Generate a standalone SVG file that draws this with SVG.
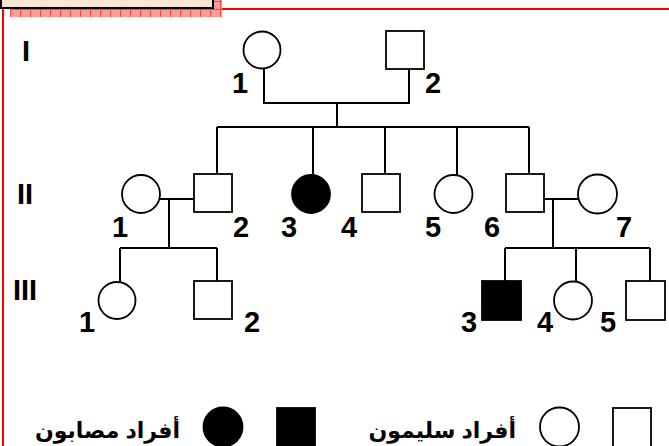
<svg xmlns="http://www.w3.org/2000/svg" width="669" height="446" viewBox="0 0 669 446">
<defs>
<pattern id="hatch" width="10" height="8" patternUnits="userSpaceOnUse" x="0" y="9">
<rect width="10" height="8" fill="#FF9C9C"/>
<path d="M0 0.5H10M0.5 0V8" stroke="#F44" stroke-width="1"/>
</pattern>
<style>
.ln{stroke:#000;stroke-width:2;fill:none}
.sh{stroke:#000;stroke-width:1.8;fill:#fff}
.af{stroke:#000;stroke-width:1.8;fill:#000}
.lb{font-family:"Liberation Sans",Arial,sans-serif;font-weight:bold;font-size:29px;fill:#000}
.ar{font-family:"Liberation Sans","DejaVu Sans","Noto Sans",sans-serif;font-weight:bold;font-size:22px;fill:#000}
.red{stroke:#F00;stroke-width:2;fill:none}
</style>
</defs>
<g id="frame">
<rect x="10" y="9" width="212" height="8" fill="url(#hatch)"/>
<rect x="213" y="0" width="9" height="17" fill="url(#hatch)"/>
<rect x="1" y="-2" width="212" height="10" fill="#FBE5D3" stroke="#000" stroke-width="2"/>
<path class="red" d="M222 9H669M3 9V446"/>
</g>
<g id="connectors">
<path class="ln" d="M264 68V103H409V69M337 103V127"/>
<path class="ln" d="M217 127H529M217 127V174M313 127V174M385 127V174M457 127V175M529 127V174"/>
<path class="ln" d="M160 199H194M169 199V248M120 248H217M120 248V282M217 248V281"/>
<path class="ln" d="M544 199H578M553 199V248M505 248H650M505 248V281M576 248V281M650 248V281"/>
</g>
<g id="gen-labels">
<text class="lb" x="22" y="61">I</text>
<text class="lb" x="17" y="204">II</text>
<text class="lb" x="13" y="300">III</text>
</g>
<g id="I-1"><circle class="sh" cx="262" cy="50" r="18.5"/><text class="lb" x="232" y="93">1</text></g>
<g id="I-2"><rect class="sh" x="386" y="31" width="38" height="38"/><text class="lb" x="425" y="93">2</text></g>
<g id="II-1"><circle class="sh" cx="141" cy="194" r="19"/><text class="lb" x="112" y="237">1</text></g>
<g id="II-2"><rect class="sh" x="194" y="174" width="38" height="38"/><text class="lb" x="233" y="237">2</text></g>
<g id="II-3"><circle class="af" cx="311" cy="194" r="19"/><text class="lb" x="281" y="237">3</text></g>
<g id="II-4"><rect class="sh" x="362" y="174" width="38" height="38"/><text class="lb" x="341" y="237">4</text></g>
<g id="II-5"><circle class="sh" cx="453.5" cy="194" r="19"/><text class="lb" x="425" y="237">5</text></g>
<g id="II-6"><rect class="sh" x="506" y="174" width="38" height="38"/><text class="lb" x="484" y="237">6</text></g>
<g id="II-7"><circle class="sh" cx="597.5" cy="194" r="19.5"/><text class="lb" x="616" y="237">7</text></g>
<g id="III-1"><circle class="sh" cx="117" cy="300.5" r="18.5"/><text class="lb" x="79" y="332">1</text></g>
<g id="III-2"><rect class="sh" x="194" y="281" width="38" height="38"/><text class="lb" x="244" y="332">2</text></g>
<g id="III-3"><rect class="af" x="482" y="281" width="39" height="39"/><text class="lb" x="461" y="332">3</text></g>
<g id="III-4"><circle class="sh" cx="573" cy="300.5" r="19"/><text class="lb" x="537" y="332">4</text></g>
<g id="III-5"><rect class="sh" x="626" y="281" width="39" height="39"/><text class="lb" x="600" y="332">5</text></g>
<g id="legend">
<rect class="sh" x="613" y="408" width="38" height="44"/>
<circle class="sh" cx="559.5" cy="427" r="19.5"/>
<text class="ar" x="516" y="438" text-anchor="end">أفراد سليمون</text>
<rect class="af" x="277" y="408" width="38" height="44"/>
<circle class="af" cx="223" cy="427" r="19.5"/>
<text class="ar" x="180" y="438" text-anchor="end">أفراد مصابون</text>
</g>
</svg>
